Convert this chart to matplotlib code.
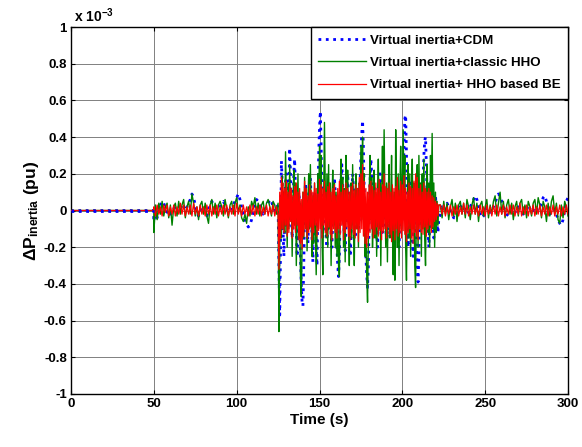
import numpy as np
import matplotlib
matplotlib.use("Agg")
import matplotlib.pyplot as plt

# ---------------- data (values in units of 1e-3 pu) ----------------
labels = ["Virtual inertia+CDM", "Virtual inertia+classic HHO", "Virtual inertia+ HHO based BE"]
xticks = [0, 50, 100, 150, 200, 250, 300]
yticks = [-1, -0.8, -0.6, -0.4, -0.2, 0, 0.2, 0.4, 0.6, 0.8, 1]
ytick_labels = ["-1", "-0.8", "-0.6", "-0.4", "-0.2", "0", "0.2", "0.4", "0.6", "0.8", "1"]

t_pre = [0, 50]
pre_vals = [0, 0]

# quiet part 50..125 s (1 s step)
blue_q1 = [-0.06, 0.02, -0.04, -0.02, 0.03, 0.05, 0.04, 0.01, -0.01, 0.0,
           -0.02, -0.01, 0.01, 0.02, 0.0, -0.02, 0.01, 0.03, 0.02, 0.0,
           0.02, 0.04, 0.06, 0.09, 0.07, 0.03, -0.01, -0.03, 0.0, 0.02,
           0.01, -0.02, -0.03, 0.0, 0.03, 0.05, 0.03, 0.0, -0.02, 0.0,
           0.02, 0.04, 0.05, 0.03, 0.01, -0.01, 0.0, 0.02, 0.03, 0.05,
           0.07, 0.09, 0.06, 0.02, -0.02, -0.05, -0.07, -0.09, -0.08, -0.05,
           -0.01, 0.03, 0.06, 0.05, 0.03, 0.0, -0.02, 0.0, 0.02, 0.04,
           0.06, 0.05, 0.02, 0.0, 0.03, 0.02]
green_q1 = [-0.12, 0.03, -0.05, 0.04, -0.02, 0.05, -0.03, 0.02, 0.04, -0.04,
            0.03, -0.08, 0.02, 0.04, -0.03, 0.05, -0.02, 0.03, 0.06, -0.04,
            0.02, 0.05, -0.02, 0.09, 0.04, -0.03, 0.02, -0.05, 0.03, 0.05,
            -0.02, 0.04, -0.03, -0.07, 0.03, 0.06, -0.02, 0.04, -0.04, 0.03,
            0.05, 0.02, -0.03, 0.06, 0.01, -0.04, 0.03, 0.05, -0.02, 0.04,
            0.07, -0.01, 0.03, -0.04, -0.06, -0.02, -0.07, 0.02, -0.03, 0.05,
            0.02, 0.07, -0.02, 0.04, -0.03, 0.03, 0.05, -0.02, 0.04, 0.06,
            0.02, -0.03, 0.05, 0.03, -0.02, 0.04]
red_q1 = [0.02, -0.03, 0.03, -0.02, 0.02, -0.03, 0.03, -0.01, 0.03, -0.03,
          0.02, -0.02, 0.03, -0.03, 0.02, -0.02, 0.04, -0.02, 0.03, -0.03,
          0.02, -0.02, 0.03, -0.03, 0.04, -0.02, 0.02, -0.03, 0.03, -0.02,
          0.02, -0.03, 0.03, -0.02, 0.03, -0.03, 0.02, -0.02, 0.03, -0.03,
          0.02, -0.02, 0.03, -0.02, 0.03, -0.03, 0.02, -0.02, 0.03, -0.03,
          0.04, -0.02, 0.02, -0.03, 0.03, -0.02, 0.02, -0.03, 0.03, -0.02,
          0.03, -0.03, 0.02, -0.02, 0.03, -0.03, 0.02, -0.02, 0.03, -0.03,
          0.02, -0.02, 0.03, -0.03, 0.02, -0.02]

# disturbed part 125.5..222 s (0.5 s step)
blue_act = [-0.30, -0.57, -0.20, 0.27, 0.15, -0.10, -0.25, -0.05, 0.15, 0.20,
            0.05, -0.10, 0.10, 0.34, 0.20, -0.05, -0.15, 0.0, 0.20, 0.28,
            0.10, -0.12, -0.25, -0.10, 0.10, 0.05, -0.25, -0.40, -0.50, -0.52,
            -0.30, 0.0, 0.15, 0.10, -0.05, -0.18, -0.05, 0.12, 0.18, 0.05,
            -0.15, -0.28, -0.10, 0.10, 0.05, -0.20, -0.30, 0.0, 0.30, 0.45,
            0.54, 0.35, 0.05, -0.15, -0.05, 0.12, 0.08, -0.10, -0.20, -0.05,
            0.10, 0.15, 0.02, -0.12, -0.20, -0.05, 0.12, 0.18, 0.10, -0.05,
            -0.20, -0.30, -0.36, -0.25, 0.0, 0.18, 0.25, 0.15, -0.02, -0.15,
            -0.22, -0.10, 0.08, 0.20, 0.10, -0.08, -0.25, -0.15, 0.05, 0.20,
            0.12, -0.05, -0.15, -0.05, 0.10, 0.05, -0.10, -0.05, 0.15, 0.30,
            0.42, 0.49, 0.35, 0.10, -0.10, -0.25, -0.35, -0.42, -0.30, -0.05,
            0.15, 0.28, 0.20, 0.0, -0.15, -0.05, 0.12, 0.05, -0.12, -0.20,
            -0.08, 0.10, 0.20, 0.15, 0.0, -0.12, -0.05, 0.10, 0.05, -0.10,
            -0.18, -0.08, 0.05, -0.05, -0.15, -0.05, 0.10, 0.05, -0.10, -0.20,
            -0.10, 0.05, 0.12, 0.05, -0.10, -0.20, -0.05, 0.10, 0.05, -0.05,
            0.15, 0.35, 0.50, 0.52, 0.30, 0.0, -0.20, -0.10, 0.10, 0.15,
            0.0, -0.15, -0.25, -0.10, 0.08, 0.0, -0.20, -0.32, -0.39, -0.25,
            0.0, 0.15, 0.10, 0.0, 0.15, 0.30, 0.38, 0.40, 0.25, 0.05,
            -0.10, -0.20, -0.08, 0.10, 0.20, 0.12, -0.05, -0.15, -0.05, 0.08,
            0.02, -0.08, -0.12, -0.05]
green_act = [-0.66, -0.20, 0.05, -0.15, 0.19, -0.10, 0.10, -0.12, 0.32, 0.05,
             -0.20, 0.15, -0.10, 0.25, -0.05, 0.10, -0.25, 0.05, 0.22, -0.08,
             0.15, -0.30, -0.05, 0.20, -0.15, 0.05, -0.35, -0.47, -0.20, 0.10,
             -0.15, 0.18, -0.05, 0.12, -0.22, 0.05, 0.20, -0.10, 0.25, -0.05,
             -0.25, 0.08, -0.18, 0.15, -0.10, -0.35, -0.10, 0.20, 0.05, 0.35,
             0.10, 0.30, -0.15, -0.35, 0.05, 0.48, 0.10, -0.15, 0.20, -0.20,
             0.25, -0.10, 0.15, -0.30, 0.05, 0.22, -0.08, 0.15, -0.20, 0.10,
             -0.25, 0.05, -0.30, -0.36, 0.10, 0.28, -0.05, 0.18, -0.20, 0.12,
             -0.28, 0.30, 0.05, 0.22, -0.10, -0.30, 0.05, 0.15, -0.15, 0.25,
             -0.05, -0.30, 0.10, 0.20, -0.10, 0.12, -0.20, 0.15, 0.05, 0.35,
             0.10, 0.40, -0.05, 0.20, -0.25, -0.10, -0.35, -0.50, -0.15, 0.10,
             0.30, -0.05, 0.18, -0.20, 0.05, 0.22, -0.15, 0.10, -0.25, 0.05,
             0.28, -0.10, 0.15, -0.30, 0.08, 0.35, -0.05, 0.44, 0.05, -0.20,
             0.15, -0.28, 0.10, 0.25, -0.15, 0.05, 0.30, -0.10, -0.35, 0.10,
             -0.38, 0.44, 0.05, -0.20, 0.20, -0.30, 0.10, 0.35, -0.10, 0.15,
             0.44, 0.10, 0.30, -0.20, -0.38, 0.05, 0.25, -0.15, 0.20, -0.25,
             0.10, 0.28, -0.10, 0.15, -0.30, -0.42, 0.05, 0.25, -0.20, 0.30,
             -0.05, 0.15, -0.25, 0.20, -0.10, 0.28, -0.15, -0.30, 0.10, 0.25,
             -0.12, 0.15, -0.20, 0.30, 0.05, 0.42, -0.10, 0.15, -0.20, 0.10,
             -0.12, 0.05, -0.08, 0.03]
red_act = [-0.32, 0.10, -0.15, 0.18, -0.10, 0.15, -0.12, 0.12, -0.08, 0.16,
           -0.14, 0.10, -0.12, 0.14, -0.06, 0.12, -0.15, 0.08, -0.10, 0.13,
           -0.12, 0.15, -0.08, 0.10, -0.16, 0.12, -0.18, 0.06, -0.21, 0.10,
           -0.14, 0.16, -0.10, 0.12, -0.15, 0.08, -0.12, 0.14, -0.09, 0.11,
           -0.16, 0.10, -0.12, 0.15, -0.08, 0.12, -0.14, 0.09, -0.11, 0.17,
           -0.10, 0.14, -0.15, 0.12, -0.08, 0.16, -0.12, 0.10, -0.14, 0.13,
           -0.09, 0.15, -0.13, 0.10, -0.16, 0.12, -0.10, 0.14, -0.12, 0.08,
           -0.15, 0.12, -0.10, 0.16, -0.13, 0.10, -0.08, 0.14, -0.16, 0.11,
           -0.12, 0.15, -0.09, 0.12, -0.14, 0.10, -0.16, 0.13, -0.10, 0.15,
           -0.13, 0.11, -0.15, 0.14, -0.10, 0.12, -0.17, 0.18, -0.12, 0.20,
           -0.10, 0.25, -0.14, 0.16, -0.18, 0.12, -0.20, 0.10, -0.15, 0.14,
           -0.12, 0.16, -0.10, 0.13, -0.15, 0.11, -0.13, 0.15, -0.09, 0.12,
           -0.14, 0.17, -0.11, 0.10, -0.16, 0.14, -0.12, 0.20, -0.10, 0.13,
           -0.15, 0.12, -0.09, 0.15, -0.13, 0.10, -0.17, 0.14, -0.11, 0.12,
           -0.16, 0.13, -0.10, 0.18, -0.14, 0.11, -0.12, 0.16, -0.15, 0.14,
           -0.11, 0.19, -0.13, 0.12, -0.17, 0.10, -0.12, 0.15, -0.10, 0.13,
           -0.15, 0.12, -0.18, 0.16, -0.12, 0.20, -0.14, 0.18, -0.16, 0.12,
           -0.10, 0.14, -0.12, 0.10, -0.13, 0.15, -0.09, 0.12, -0.14, 0.10,
           -0.10, 0.12, -0.08, 0.10, -0.12, 0.08, -0.09, 0.07, -0.06, 0.05,
           -0.05, 0.04, -0.03, 0.03]

# settled part 223..300 s (1 s step)
blue_q2 = [-0.02, 0.02, 0.0, 0.03, 0.04, 0.02, 0.0, -0.02, -0.04, -0.04,
           -0.03, 0.0, 0.02, 0.03, 0.02, 0.0, -0.02, -0.01, 0.02, 0.04,
           0.06, 0.08, 0.06, 0.02, -0.02, -0.04, -0.03, 0.0, 0.02, 0.01,
           -0.01, 0.0, 0.02, 0.04, 0.07, 0.09, 0.08, 0.05, 0.02, 0.0,
           -0.02, -0.03, -0.02, 0.0, 0.01, -0.01, 0.0, 0.02, 0.01, -0.01,
           -0.02, 0.0, 0.02, 0.03, 0.01, -0.01, 0.0, 0.02, 0.01, 0.0,
           0.02, 0.04, 0.07, 0.08, 0.05, 0.01, -0.02, -0.01, 0.01, 0.0,
           -0.02, -0.05, -0.07, -0.08, -0.05, 0.0, 0.05, 0.07]
green_q2 = [0.03, -0.04, 0.05, -0.02, 0.04, -0.05, 0.02, 0.06, -0.03, 0.04,
            -0.06, 0.03, 0.05, -0.02, 0.04, -0.04, 0.06, 0.02, -0.05, 0.03,
            0.07, -0.02, 0.04, -0.06, 0.03, 0.05, -0.03, 0.02, 0.06, -0.04,
            0.03, -0.02, 0.05, 0.08, -0.03, 0.04, 0.10, -0.02, 0.05, -0.04,
            0.03, 0.06, -0.02, 0.04, -0.05, 0.02, 0.05, -0.03, 0.04, 0.06,
            -0.02, 0.03, -0.04, 0.05, 0.02, -0.03, 0.04, 0.06, -0.02, 0.07,
            0.03, -0.04, 0.05, 0.02, -0.06, 0.04, -0.03, 0.05, 0.08, -0.02,
            0.04, -0.05, -0.07, 0.03, -0.04, 0.05, 0.02, -0.03]
red_q2 = [0.03, -0.02, 0.03, -0.03, 0.02, -0.02, 0.03, -0.03, 0.02, -0.02,
          0.03, -0.03, 0.02, -0.02, 0.04, -0.02, 0.03, -0.03, 0.02, -0.02,
          0.03, -0.02, 0.02, -0.03, 0.03, -0.02, 0.02, -0.03, 0.03, -0.02,
          0.02, -0.03, 0.03, -0.02, 0.03, -0.03, 0.02, -0.02, 0.03, -0.03,
          0.02, -0.02, 0.03, -0.02, 0.03, -0.03, 0.02, -0.02, 0.04, -0.03,
          0.02, -0.02, 0.03, -0.03, 0.02, -0.02, 0.03, -0.03, 0.02, -0.02,
          0.03, -0.03, 0.02, -0.02, 0.03, -0.03, 0.02, -0.02, 0.03, -0.03,
          0.02, -0.02, 0.03, -0.03, 0.02, -0.02, 0.03, -0.02]


def build(q1, act, q2):
    t1 = 50 + np.arange(len(q1)) * 1.0
    t2 = 125.5 + np.arange(len(act)) * 0.5
    t3 = t2[-1] + 1 + np.arange(len(q2)) * 1.0
    t = np.concatenate([t_pre, t1, t2, t3])
    y = np.concatenate([pre_vals, q1, act, q2])
    return t, y


tb, yb = build(blue_q1, blue_act, blue_q2)
tg, yg = build(green_q1, green_act, green_q2)
tr, yr = build(red_q1, red_act, red_q2)

# ---------------- style ----------------
plt.rcParams['font.family'] = ['Liberation Sans', 'DejaVu Sans']
plt.rcParams['font.weight'] = 'bold'
plt.rcParams['mathtext.fontset'] = 'custom'
plt.rcParams['mathtext.rm'] = 'Liberation Sans:bold'
plt.rcParams['mathtext.bf'] = 'Liberation Sans:bold'
plt.rcParams['mathtext.it'] = 'Liberation Sans:bold'

fig = plt.figure(figsize=(5.82, 4.47), dpi=100)
ax = fig.add_axes([71 / 582, 1 - 394 / 447, (568 - 71) / 582, (394 - 27) / 447])

ax.plot(tb, yb, ':', color=(0, 0, 1), lw=2.0, label=labels[0], zorder=2)
ax.plot(tg, yg, '-', color=(0, 0.5, 0), lw=1.0, label=labels[1], zorder=3)
ax.plot(tr, yr, '-', color=(1, 0, 0), lw=0.9, label=labels[2], zorder=4)
ax.plot(tb[:2], yb[:2], ':', color=(0, 0, 1), lw=2.0, zorder=5)

ax.set_xlim(0, 300)
ax.set_ylim(-1, 1)
ax.set_xticks(xticks)
ax.set_yticks(yticks)
ax.set_yticklabels(ytick_labels)
ax.grid(True, color='0.5', lw=0.7)
ax.set_axisbelow(True)
ax.tick_params(direction='in', length=3, width=0.8, top=True, right=True,
               labelsize=9.5, pad=3)
for lab in ax.get_xticklabels() + ax.get_yticklabels():
    lab.set_fontweight('bold')
for s in ax.spines.values():
    s.set_linewidth(1.0)

ax.set_xlabel('Time (s)', fontsize=11, fontweight='bold', labelpad=2)
ax.set_ylabel(r'$\Delta$P$_{\mathrm{inertia}}$ (pu)', fontsize=12.5, fontweight='bold', labelpad=2)

fig.text(74 / 582, 1 - 16 / 447, r'x 10$^{\mathrm{-3}}$', fontsize=10, fontweight='bold',
         ha='left', va='center')

leg = ax.legend(loc='upper right', borderaxespad=0, fancybox=False, framealpha=1,
                edgecolor='black', handlelength=3.6, handletextpad=0.3,
                labelspacing=0.75, borderpad=0.55, prop={'weight': 'bold', 'size': 9.6})
leg.get_frame().set_linewidth(1.0)
leg.set_zorder(10)

fig.savefig('out.png', dpi=100)
